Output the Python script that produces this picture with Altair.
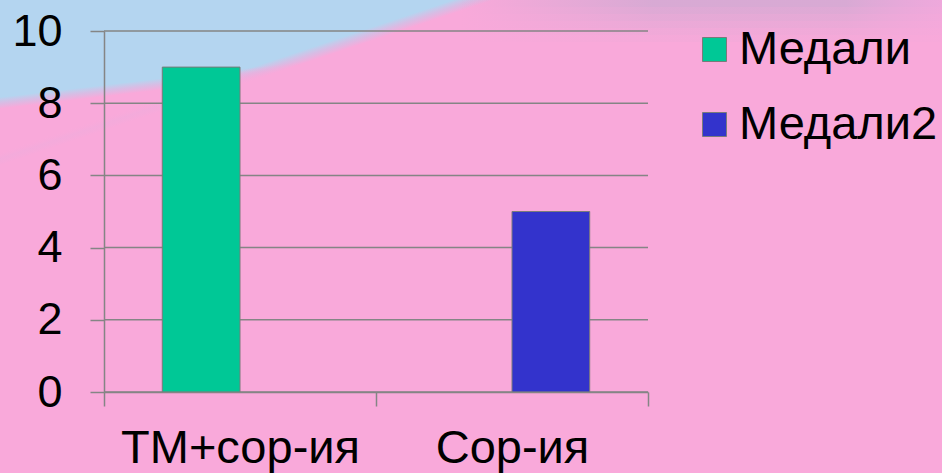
import math
import altair as alt
import pandas as pd

# Chart data
categories = ["ТМ+сор-ия", "Сор-ия"]
series = ["Медали", "Медали2"]
medali = [9, None]
medali2 = [None, 5]
y_ticks = [0, 2, 4, 6, 8, 10]

series_colors = ["#00C896", "#3333CC"]
FONT = "Liberation Sans"
GRID = "#858585"
PINK = "#F9A9DA"
SKY = "#B4D5F0"

rows = []
for name, values in zip(series, [medali, medali2]):
    for cat, v in zip(categories, values):
        if v is not None:
            rows.append({"category": cat, "series": name, "value": v})
bars_df = pd.DataFrame(rows)
ticks_df = pd.DataFrame({"tick": y_ticks})

W, H = 544, 361
PAD = {"left": 104, "top": 31, "right": 294, "bottom": 81}
PAGE_W = W + PAD["left"] + PAD["right"]
PAGE_H = H + PAD["top"] + PAD["bottom"]

one_row = pd.DataFrame({"bg": [0]})


def page_rect(fill, x0=0, y0=0, x1=PAGE_W, y1=PAGE_H):
    """A decorative rectangle given in page pixels."""
    return alt.Chart(one_row).mark_rect(fill=fill, stroke=None).encode(
        x=alt.value(x0 - PAD["left"]),
        x2=alt.value(x1 - PAD["left"]),
        y=alt.value(y0 - PAD["top"]),
        y2=alt.value(y1 - PAD["top"]),
    )


def pink_beyond(p, q, soft=0.012):
    """Pink wash covering the page below the line through page points p and q."""
    pu, pv = p[0] / PAGE_W, p[1] / PAGE_H
    qu, qv = q[0] / PAGE_W, q[1] / PAGE_H
    du, dv = qu - pu, qv - pv
    nu, nv = -dv, du
    n = math.hypot(nu, nv)
    nu, nv = nu / n, nv / n
    return page_rect({
        "gradient": "linear",
        "x1": pu - nu * soft, "y1": pv - nv * soft,
        "x2": pu + nu * soft, "y2": pv + nv * soft,
        "stops": [
            {"offset": 0.0, "color": "rgba(249,169,218,0)"},
            {"offset": 0.5, "color": "rgba(240,172,220,0.6)"},
            {"offset": 1.0, "color": PINK},
        ],
    })


# blue corner bounded by two slanted edges
wash_left = pink_beyond((0, 103), (255, 73))
wash_right = pink_beyond((255, 73), (458, 5))

# mauve haze along the top right, built from thin bands that fade downwards
haze_layers = []
band_alphas = [0.75, 0.6, 0.45, 0.32, 0.2, 0.1]
for i, a in enumerate(band_alphas):
    haze_layers.append(page_rect({
        "gradient": "linear",
        "x1": 0, "y1": 0, "x2": 1, "y2": 0,
        "stops": [
            {"offset": 0.0, "color": "rgba(205,170,210,0)"},
            {"offset": 0.4, "color": f"rgba(205,170,210,{a})"},
            {"offset": 0.8, "color": f"rgba(205,170,210,{a})"},
            {"offset": 1.0, "color": f"rgba(225,168,222,{a * 0.6:.3f})"},
        ],
    }, x0=460, y0=i * 7, x1=PAGE_W, y1=(i + 1) * 7))

y_scale = alt.Scale(domain=[0, 10], nice=False)
y_axis = alt.Axis(
    title=None,
    values=y_ticks,
    labelFont=FONT,
    labelFontSize=45,
    labelColor="black",
    labelPadding=28,
    tickSize=14,
    tickColor=GRID,
    tickWidth=1.5,
    domainColor=GRID,
    domainWidth=1.5,
    grid=False,
    zindex=1,
)

grid = alt.Chart(ticks_df).mark_rule(color=GRID, strokeWidth=1.5).encode(
    y=alt.Y("tick:Q", scale=y_scale, axis=y_axis)
)

bars = alt.Chart(bars_df).mark_bar(stroke="#7a7a7a", strokeWidth=1).encode(
    x=alt.X(
        "category:N",
        sort=categories,
        scale=alt.Scale(paddingInner=0, paddingOuter=0),
        axis=alt.Axis(
            title=None,
            labelAngle=0,
            labelFont=FONT,
            labelFontSize=47,
            labelColor="black",
            labelPadding=19,
            labelLimit=0,
            tickBand="extent",
            tickSize=14,
            tickColor=GRID,
            tickWidth=1.5,
            domainColor=GRID,
            domainWidth=1.5,
            grid=False,
            zindex=1,
        ),
    ),
    xOffset=alt.XOffset(
        "series:N",
        scale=alt.Scale(domain=series, paddingInner=0, paddingOuter=0.75),
    ),
    y=alt.Y("value:Q", scale=y_scale, axis=y_axis),
    color=alt.Color(
        "series:N",
        scale=alt.Scale(domain=series, range=series_colors),
        legend=alt.Legend(
            title=None,
            orient="none",
            legendX=587,
            legendY=-5,
            padding=0,
            symbolType="square",
            symbolSize=576,
            symbolStrokeColor="#7a7a7a",
            symbolStrokeWidth=1,
            symbolOpacity=1,
            labelFont=FONT,
            labelFontSize=47,
            labelColor="black",
            labelOffset=1,
            labelLimit=0,
            rowPadding=27,
        ),
    ),
)

chart = alt.layer(wash_left, wash_right, *haze_layers, grid, bars).properties(
    width=W,
    height=H,
    padding=PAD,
    autosize=alt.AutoSizeParams(type="none"),
    background=SKY,
).configure_view(stroke=None)

chart.save("out.html", embed_options={"renderer": "svg", "actions": False})
